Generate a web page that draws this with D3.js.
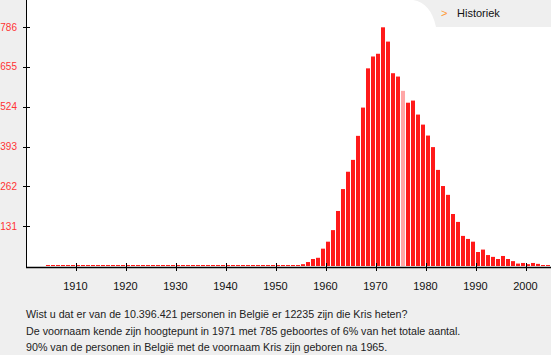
<!DOCTYPE html>
<html>
<head>
<meta charset="utf-8">
<script src="https://cdn.jsdelivr.net/npm/d3@7"></script>
<style>
  html, body { margin: 0; padding: 0; background: #efefef; }
  svg { display: block; }
</style>
</head>
<body>
<svg id="chart" width="551" height="355"></svg>
<script>
// ---- data ----
const startYear = 1904;
const births = [
  // 1904-1951
  0,0,0,0,0,0,0,0,0,0, 0,0,0,0,0,0,0,0,0,0, 0,0,0,0,0,0,0,0,0,0,
  0,0,0,0,0,0,0,0,0,0, 0,0,0,0,0,0,0,0,
  // 1952-1963
  1,1,2,6,13,23,27,57,80,118,181,253,
  // 1964-1975
  310,349,428,521,650,689,698,785,738,634,623,576,
  // 1976-1987
  537,544,498,465,429,391,316,263,234,171,145,99,
  // 1988-2004
  89,80,46,54,36,30,23,33,23,16,8,10,6,10,7,3,3
];
const years = births.map((_, i) => startYear + i);
const highlightYear = 1975;
const yTicks = [131, 262, 393, 524, 655, 786];
const xTicks = [1910, 1920, 1930, 1940, 1950, 1960, 1970, 1980, 1990, 2000];
const infoLines = [
  "Wist u dat er van de 10.396.421 personen in België er 12235 zijn die Kris heten?",
  "De voornaam kende zijn hoogtepunt in 1971 met 785 geboortes of 6% van het totale aantal.",
  "90% van de personen in België met de voornaam Kris zijn geboren na 1965."
];
const tabLabel = "Historiek";

// ---- drawing ----
const svg = d3.select("#chart");
const font = "Arial, 'Liberation Sans', sans-serif";

const x = d3.scaleLinear().domain([1960, 2000]).range([326, 526]);
const y = d3.scaleLinear().domain([0, 786]).range([266, 27]);

// white plot panel
svg.append("rect").attr("x", 27).attr("y", 0).attr("width", 524).attr("height", 267).attr("fill", "#fff");

// Historiek tab
svg.append("path")
  .attr("d", "M413,0 Q431,3 436,27 L551,27 L551,0 Z")
  .attr("fill", "#efefef");
svg.append("text").attr("x", 441).attr("y", 16.5)
  .attr("font-family", font).attr("font-size", 11).attr("fill", "#ff9933").text(">");
svg.append("text").attr("x", 457).attr("y", 16.7)
  .attr("font-family", font).attr("font-size", 11).attr("fill", "#111").text(tabLabel);

// bars
svg.append("g").selectAll("rect").data(years).join("rect")
  .attr("x", d => x(d))
  .attr("width", 4)
  .attr("y", (d, i) => Math.min(y(births[i]), y(0) - 1))
  .attr("height", (d, i) => Math.max(1, y(0) - y(births[i])))
  .attr("fill", d => d === highlightYear ? "#ffa6a6" : "#ff1a1a");

// y axis
svg.append("line").attr("x1", 26.5).attr("x2", 26.5).attr("y1", 0).attr("y2", 268)
  .attr("stroke", "#000").attr("stroke-width", 1);
const yg = svg.append("g");
yg.selectAll("line").data(yTicks).join("line")
  .attr("x1", 23).attr("x2", 30)
  .attr("y1", d => Math.round(y(d)) + 0.5).attr("y2", d => Math.round(y(d)) + 0.5)
  .attr("stroke", "#000");
yg.selectAll("text").data(yTicks).join("text")
  .attr("x", 17).attr("y", d => y(d) + 3.5)
  .attr("text-anchor", "end")
  .attr("font-family", font).attr("font-size", 10).attr("fill", "#ff3333")
  .text(d => d);

// x axis
svg.append("line").attr("x1", 26).attr("x2", 551).attr("y1", 267.5).attr("y2", 267.5)
  .attr("stroke", "#000").attr("stroke-width", 1.3);
const xg = svg.append("g");
xg.selectAll("line").data(xTicks).join("line")
  .attr("x1", d => Math.round(x(d)) + 0.5).attr("x2", d => Math.round(x(d)) + 0.5)
  .attr("y1", 263).attr("y2", 271)
  .attr("stroke", "#000");
xg.selectAll("text").data(xTicks).join("text")
  .attr("x", d => x(d) - 0.5).attr("y", 290)
  .attr("text-anchor", "middle")
  .attr("font-family", font).attr("font-size", 11).attr("fill", "#111")
  .text(d => d);

// info text
svg.append("g").selectAll("text").data(infoLines).join("text")
  .attr("x", 26).attr("y", (d, i) => 318 + i * 16.5)
  .attr("font-family", font).attr("font-size", 10.7).attr("fill", "#222")
  .text(d => d);
</script>
</body>
</html>
